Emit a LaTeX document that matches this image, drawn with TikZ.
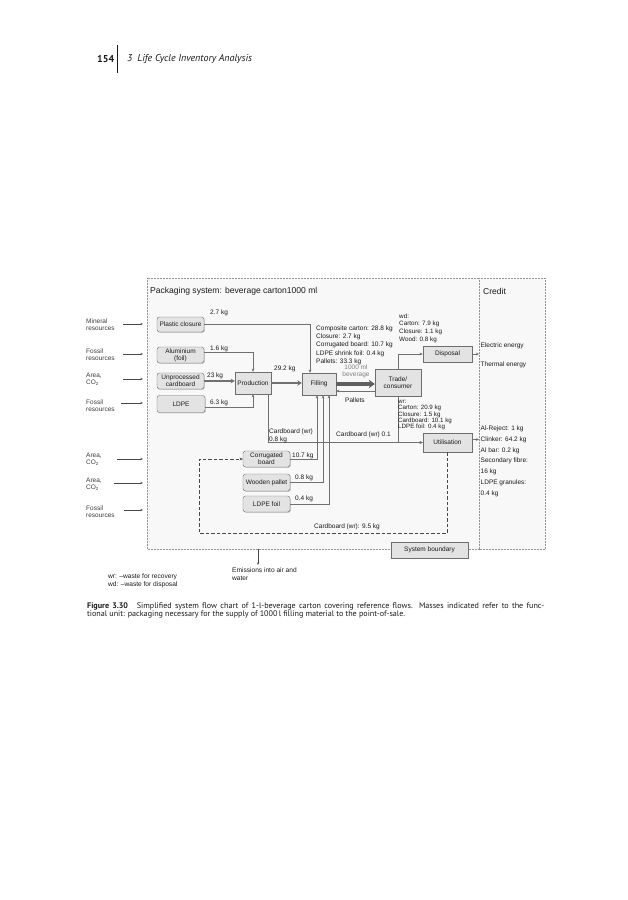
\documentclass[tikz,border=0pt]{standalone}
\usepackage{fontspec}
\setmainfont{Liberation Sans}
\newfontfamily\bookfont{PT Sans}
\usetikzlibrary{arrows.meta,calc,shadows}
\definecolor{ink}{HTML}{1A1A1A}
\definecolor{inkgray}{HTML}{707070}
\definecolor{boxfill}{HTML}{E3E3E3}
\definecolor{boxborder}{HTML}{6E6E6E}
\definecolor{areafill}{HTML}{F8F8F8}

\begin{document}
\begin{tikzpicture}[x=1pt, y=-1pt,
  font=\fontsize{6.5}{7.3}\selectfont,
  >={Stealth[length=3.2pt,width=2.8pt]},
  source/.style={draw=boxborder, fill=boxfill, rounded corners=2.5pt, text=ink,
    align=center, minimum width=47pt, inner sep=1pt,
    drop shadow={shadow xshift=0.9pt, shadow yshift=-0.9pt, fill=gray!75}},
  process/.style={source, sharp corners},
  note/.style={text=ink, align=left, inner sep=0pt, anchor=west},
  block/.style={note, anchor=north west},
  flow/.style={->, draw=inkgray, line width=0.6pt},
  bulk/.style={->, draw=inkgray, line width=1.5pt, >={Stealth[length=4pt,width=4.5pt]}},
  recycle/.style={->, draw=ink!80, line width=0.8pt, dash pattern=on 3.5pt off 2pt},
  inarrow/.style={->, draw=ink!80, line width=0.5pt, >={Stealth[length=2.5pt,width=2pt]}},
  boundary/.style={draw=gray!85, densely dotted, line width=0.5pt}
]
\fill[white] (0,0) rectangle (627,900);
\useasboundingbox (0,0) rectangle (627,900);

% page header
\node[note, font=\bookfont\fontsize{10}{12}\selectfont\bfseries] (pagenum) at (97,59) {154};
\draw[ink, line width=0.8pt] (117,45) -- (117,73);
\node[note, font=\bookfont\fontsize{10}{12}\selectfont\itshape] (chapter) at (127,59) {3\enspace Life Cycle Inventory Analysis};

% system boundaries
\draw[boundary, fill=areafill] (147,278) rectangle (479,549);
\draw[boundary, fill=areafill] (479,278) rectangle (545,549);
\node[note, font=\fontsize{8.55}{10}\selectfont] (title) at (150,291) {Packaging system: beverage carton1000 ml};
\node[note, font=\fontsize{8.55}{10}\selectfont] (credit) at (483,291) {Credit};

% resources entering the system
\foreach \y/\ya/\xs/\t [count=\i] in {325/324/123/{Mineral\\resources}, 354.5/354/123/{Fossil\\resources},
    379.5/379/123/{Area,\\CO\textsubscript{2}}, 406/403/121/{Fossil\\resources},
    459.5/459/117/{Area,\\CO\textsubscript{2}}, 484.5/483/114/{Area,\\CO\textsubscript{2}},
    511.5/510/124/{Fossil\\resources}} {
  \node[note, text=ink!85] (res\i) at (86,\y) {\t};
  \coordinate (resin\i) at (143,\ya);
  \draw[inarrow] (\xs,\ya) -- (resin\i);
}

% materials
\node[source, minimum height=15pt] (plastic) at (180.5,324.5) {Plastic closure};
\node[source, minimum height=16pt] (alu) at (180.5,355) {Aluminium\\(foil)};
\node[source, minimum height=16pt] (unproc) at (180.5,381) {Unprocessed\\cardboard};
\node[source, minimum height=17pt, minimum width=48pt] (ldpe) at (181,404) {LDPE};

% processes
\node[process, minimum width=36pt, minimum height=22pt] (prod) at (253,383) {Production};
\node[process, minimum width=34pt, minimum height=22pt] (fill) at (319,384) {Filling};
\node[process, minimum width=46pt, minimum height=27pt] (trade) at (398,382.5) {Trade/\\consumer};
\node[process, minimum width=49pt, minimum height=16pt] (disp) at (447.5,354) {Disposal};
\node[process, minimum width=49pt, minimum height=19pt] (util) at (447.5,442.5) {Utilisation};

% transport packaging
\node[source, minimum height=16pt] (corr) at (266.5,459) {Corrugated\\board};
\node[source, minimum height=17pt] (wood) at (266.5,482.5) {Wooden pallet};
\node[source, minimum height=16pt] (foil) at (266.5,504) {LDPE foil};

% flows
\draw[flow] (plastic.east) -| ($(fill.north)+(-9,0)$);
\draw[flow] ($(alu.east)+(0,-3)$) -| (prod.north);
\draw[bulk] (unproc.east) -- (unproc.east -| prod.west);
\draw[flow] ($(ldpe.east)+(0,3)$) -| (prod.south);
\draw[bulk, line width=2.4pt, >={Stealth[length=4.5pt,width=5.5pt]}] (prod.east) -- (prod.east -| fill.west);
\draw[bulk, draw=ink!70, line width=4pt, >={Stealth[length=6pt,width=8.5pt]}] (fill.east) -- (fill.east -| trade.west);
\draw[flow] ($(trade.west)+(0,8.5)$) -- ($(fill.east)+(0,7)$);
\draw[flow] (trade.north) |- (disp.west);
\coordinate (creditin1) at (479,354);
\draw[flow] (disp.east) -- (creditin1);
\draw[flow] (trade.south) |- (util.west);
\draw[flow] ($(prod.south east)+(-3,0)$) |- (util.west);
\coordinate (creditin2) at (479,439.5);
\draw[flow] ($(util.east)+(0,-3)$) -- (creditin2);
\draw[flow] (corr.east) -| ($(fill.south)+(-2,0)$);
\draw[flow] (wood.east) -| ($(fill.south)+(4,0)$);
\draw[flow] (foil.east) -| ($(fill.south)+(10,0)$);
\coordinate (return) at (199,533);
\draw[recycle] (util.south) |- (return) |- (corr.west);

% masses
\node[note] (m1) at (210,313) {2.7 kg};
\node[note] (m2) at (210,349) {1.6 kg};
\node[note] (m3) at (207,375.5) {23 kg};
\node[note] (m4) at (210,402.5) {6.3 kg};
\node[note] (m5) at (274,369) {29.2 kg};
\node[note, text=gray, align=center, anchor=center] (m6) at (356,371.5) {1000 ml\\beverage};
\node[note] (m7) at (345,400) {Pallets};
\node[note] (m8) at (292,456) {10.7 kg};
\node[note] (m9) at (295,478) {0.8 kg};
\node[note] (m10) at (295,498.5) {0.4 kg};
\node[block] (m11) at (269,429) {Cardboard (wr)\\0.8 kg};
\node[note] (m12) at (336,435) {Cardboard (wr) 0.1};
\node[note] (m13) at (314,527) {Cardboard (wr): 9.5 kg};
\node[block, font=\fontsize{6.5}{8.2}\selectfont] (packlist) at (316,325.5) {Composite carton: 28.8 kg\\Closure: 2.7 kg\\Corrugated board: 10.7 kg\\LDPE shrink foil: 0.4 kg\\Pallets: 33.3 kg};
\node[block, font=\fontsize{6.3}{7.6}\selectfont] (wdlist) at (399,313.5) {wd:\\Carton: 7.9 kg\\Closure: 1.1 kg\\Wood: 0.8 kg};
\node[block, font=\fontsize{6.2}{6.3}\selectfont] (wrlist) at (398,400) {wr:\\Carton: 20.9 kg\\Closure: 1.5 kg\\Cardboard: 10.1 kg\\LDPE foil: 0.4 kg};

% credits
\foreach \y/\t [count=\i] in {346/Electric energy, 365/Thermal energy, 429/Al-Reject: 1 kg,
    440/Clinker: 64.2 kg, 451/Al bar: 0.2 kg, 461/Secondary fibre:, 472/16 kg,
    483/LDPE granules:, 494/0.4 kg}
  \node[note] (cr\i) at (480.5,\y) {\t};

% boundary label and emissions
\node[process, fill=gray!22, minimum width=77pt, minimum height=16pt] (sysb) at (429.5,550) {System boundary};
\coordinate (emout) at (258,549);
\coordinate (emend) at (258,565);
\draw[inarrow, line width=0.7pt] (emout) -- (emend);
\node[block, font=\fontsize{6.6}{8}\selectfont] (emis) at (232,567.5) {Emissions into air and\\water};
\node[block, font=\fontsize{6.6}{8}\selectfont] (legend) at (108,574) {wr: --waste for recovery\\wd: --waste for disposal};

% caption
\node[note, font=\bookfont\fontsize{8.1}{9}\selectfont] (cap1) at (87,606) {\makebox[457pt][s]{\textbf{Figure 3.30}\hspace{1.1em}Simplified system flow chart of 1-l-beverage carton covering reference flows. Masses indicated refer to the func-}};
\node[note, font=\bookfont\fontsize{8.1}{9}\selectfont] (cap2) at (87,614.5) {tional unit: packaging necessary for the supply of 1000\,l filling material to the point-of-sale.};
\end{tikzpicture}
\end{document}
